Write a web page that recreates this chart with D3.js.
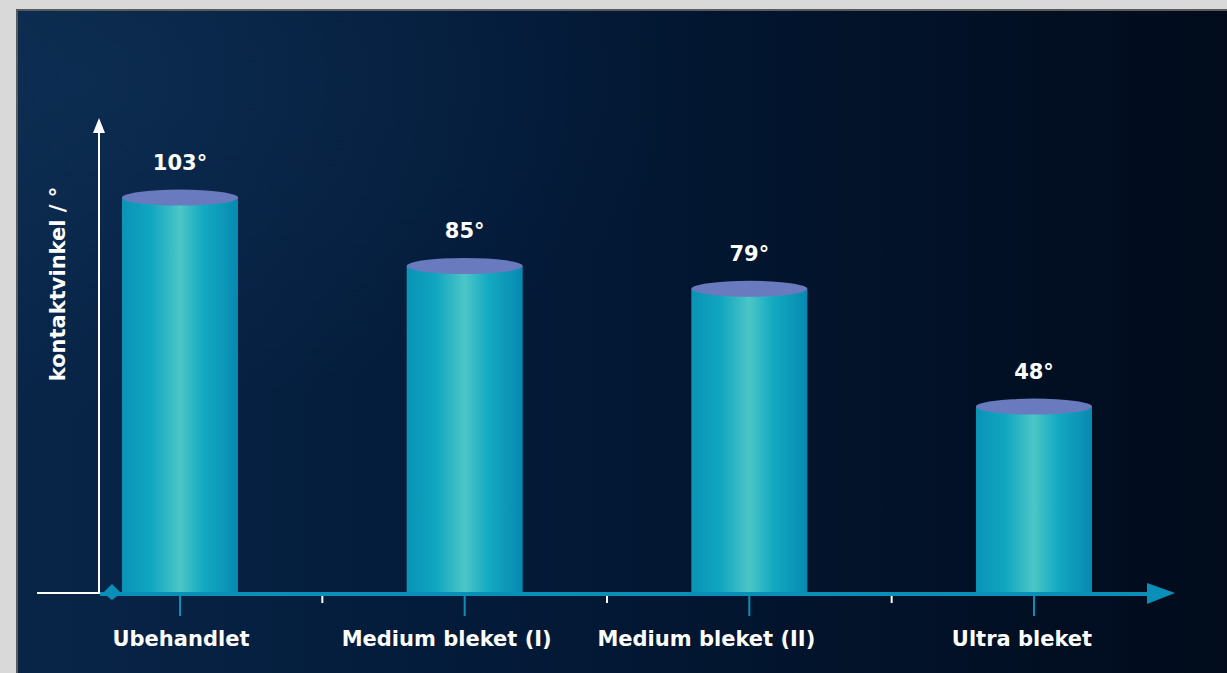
<!DOCTYPE html>
<html>
<head>
<meta charset="utf-8">
<script src="https://cdn.jsdelivr.net/npm/d3@7"></script>
<style>
  body { margin: 0; background: #d9d9d9; overflow: hidden; }
  svg { display: block; }
</style>
</head>
<body>
<script>
var categories = ["Ubehandlet", "Medium bleket (I)", "Medium bleket (II)", "Ultra bleket"];
var angles = [103, 85, 79, 48];
var valueLabels = ["103°", "85°", "79°", "48°"];
var yTitle = "kontaktvinkel / °";

var outerWidth = 1227;
var outerHeight = 673;
var barWidth = 116;
var baseY = 589;
var axisY = 594;
// category labels in the original sit a bit left of their ticks
var labelShift = [1, -18, -43, -12];

var svg = d3.select("body")
  .append("svg")
  .attr("width", outerWidth)
  .attr("height", outerHeight);

var defs = svg.append("defs");

var bg = defs.append("linearGradient").attr("id", "bg")
  .attr("x1", "0").attr("y1", "0").attr("x2", "1").attr("y2", "0");
bg.append("stop").attr("offset", "0%").attr("stop-color", "#082548");
bg.append("stop").attr("offset", "40%").attr("stop-color", "#031a38");
bg.append("stop").attr("offset", "100%").attr("stop-color", "#010b1b");

var glow = defs.append("radialGradient").attr("id", "glow")
  .attr("cx", "0.05").attr("cy", "0.1").attr("r", "0.5");
glow.append("stop").attr("offset", "0%").attr("stop-color", "#1a4670").attr("stop-opacity", 0.25);
glow.append("stop").attr("offset", "100%").attr("stop-color", "#1a4670").attr("stop-opacity", 0);

var barGrad = defs.append("linearGradient").attr("id", "bar")
  .attr("x1", "0").attr("y1", "0").attr("x2", "1").attr("y2", "0");
barGrad.append("stop").attr("offset", "0%").attr("stop-color", "#0a93b6");
barGrad.append("stop").attr("offset", "25%").attr("stop-color", "#10a6c0");
barGrad.append("stop").attr("offset", "50%").attr("stop-color", "#4cc6c6");
barGrad.append("stop").attr("offset", "70%").attr("stop-color", "#14aac2");
barGrad.append("stop").attr("offset", "100%").attr("stop-color", "#0789b0");

// panel
svg.append("rect")
  .attr("x", 17).attr("y", 10)
  .attr("width", outerWidth).attr("height", outerHeight)
  .attr("fill", "url(#bg)")
  .attr("stroke", "#5a5a5a").attr("stroke-width", 2);
svg.append("rect")
  .attr("x", 18).attr("y", 11)
  .attr("width", outerWidth).attr("height", outerHeight)
  .attr("fill", "url(#glow)");

var xScale = d3.scalePoint()
  .domain(categories)
  .range([180, 1034]);

var yScale = d3.scaleLinear()
  .domain([0, 110])
  .range([baseY, 171]);

var font = "'DejaVu Sans', sans-serif";

// bars
var bars = svg.selectAll(".bar")
  .data(categories)
  .enter()
  .append("g")
  .attr("class", "bar");

bars.append("rect")
  .attr("x", (d) => xScale(d) - barWidth / 2)
  .attr("y", (d, i) => yScale(angles[i]))
  .attr("width", barWidth)
  .attr("height", (d, i) => axisY - 2 - yScale(angles[i]))
  .attr("fill", "url(#bar)");

bars.append("ellipse")
  .attr("cx", (d) => xScale(d))
  .attr("cy", (d, i) => yScale(angles[i]))
  .attr("rx", barWidth / 2)
  .attr("ry", 8)
  .attr("fill", "#6a7abf");

bars.append("text")
  .attr("x", (d) => xScale(d))
  .attr("y", (d, i) => yScale(angles[i]) - 28)
  .attr("text-anchor", "middle")
  .attr("font-family", font)
  .attr("font-weight", "bold")
  .attr("font-size", 21)
  .attr("fill", "#ffffff")
  .text((d, i) => valueLabels[i]);

// y axis (white arrow)
svg.append("line")
  .attr("x1", 99).attr("y1", 128)
  .attr("x2", 99).attr("y2", axisY - 1)
  .attr("stroke", "#ffffff").attr("stroke-width", 2);
svg.append("path")
  .attr("d", "M99,118 L93,133 L105,133 Z")
  .attr("fill", "#ffffff");
svg.append("line")
  .attr("x1", 37).attr("y1", axisY - 1)
  .attr("x2", 100).attr("y2", axisY - 1)
  .attr("stroke", "#ffffff").attr("stroke-width", 2);

svg.append("text")
  .attr("transform", "translate(65,284) rotate(-90)")
  .attr("text-anchor", "middle")
  .attr("font-family", font)
  .attr("font-weight", "bold")
  .attr("font-size", 21)
  .attr("fill", "#ffffff")
  .text(yTitle);

// x axis (blue arrow)
var axisColor = "#0a8fb8";
svg.append("line")
  .attr("x1", 100).attr("y1", axisY)
  .attr("x2", 1160).attr("y2", axisY)
  .attr("stroke", axisColor).attr("stroke-width", 4);
svg.append("path")
  .attr("d", "M1175,593 L1147,583 L1147,604 Z")
  .attr("fill", axisColor);
svg.append("path")
  .attr("d", "M112,584 L121,593 L112,600 L103,593 Z")
  .attr("fill", axisColor);

// ticks at bars
svg.selectAll(".tick-main")
  .data(categories)
  .enter()
  .append("line")
  .attr("class", "tick-main")
  .attr("x1", (d) => xScale(d)).attr("x2", (d) => xScale(d))
  .attr("y1", axisY).attr("y2", 616)
  .attr("stroke", axisColor).attr("stroke-width", 2);

// small white ticks between categories
var mids = d3.pairs(categories).map((p) => (xScale(p[0]) + xScale(p[1])) / 2);
svg.selectAll(".tick-mid")
  .data(mids)
  .enter()
  .append("line")
  .attr("class", "tick-mid")
  .attr("x1", (d) => d).attr("x2", (d) => d)
  .attr("y1", axisY + 2).attr("y2", 603)
  .attr("stroke", "#ffffff").attr("stroke-width", 2);

// category labels
svg.selectAll(".cat")
  .data(categories)
  .enter()
  .append("text")
  .attr("class", "cat")
  .attr("x", (d, i) => xScale(d) + labelShift[i])
  .attr("y", 646)
  .attr("text-anchor", "middle")
  .attr("font-family", font)
  .attr("font-weight", "bold")
  .attr("font-size", 21)
  .attr("fill", "#ffffff")
  .text((d) => d);
</script>
</body>
</html>
